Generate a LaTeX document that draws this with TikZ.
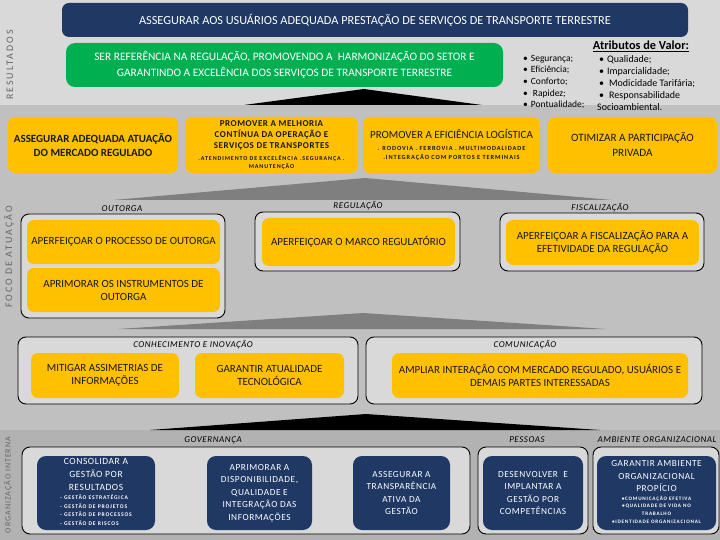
\documentclass[tikz,border=0pt]{standalone}
\usepackage{fontspec}
\setmainfont{Carlito}
\newfontfamily\sidefont[LetterSpace=20]{Carlito}
\newfontfamily\sidefontorg[LetterSpace=12]{Carlito}
\newfontfamily\spacedfont[LetterSpace=6]{Carlito}
\newfontfamily\tinyfont[LetterSpace=15]{Carlito}
\newfontfamily\tagfont[LetterSpace=6]{Carlito}
\definecolor{navy}{HTML}{1F3864}
\definecolor{vgreen}{HTML}{00B050}
\definecolor{gold}{HTML}{FFC000}
\definecolor{bandtop}{HTML}{D9D9D9}
\definecolor{bandmid}{HTML}{C0C0C0}
\definecolor{bandlow}{HTML}{B2B2B2}
\definecolor{wedge}{HTML}{7F7F7F}

\begin{document}
\begin{tikzpicture}[x=1pt,y=-1pt,
  ybox/.style={fill=gold,rounded corners=7pt,align=center,inner sep=0pt,text=black!90,font=\fontsize{11}{13}\selectfont},
  nbox/.style={fill=navy,rounded corners=9pt,align=center,inner sep=0pt,text=white,font=\spacedfont\fontsize{9.3}{12.5}\selectfont},
  frame/.style={draw=black,line width=0.9pt,fill=bandtop,rounded corners=8pt,inner sep=0pt},
  tag/.style={font=\tagfont\itshape\fontsize{9}{10}\selectfont,inner sep=0pt},
  sidetag/.style={rotate=90,text=black!60,inner sep=0pt,font=\sidefont\fontsize{10}{11}\selectfont}]
\useasboundingbox (0,0) rectangle (720,540);
\fill[bandtop] (0,0) rectangle (720,105);
\fill[bandmid] (0,105) rectangle (720,430);
\fill[bandlow] (0,430) rectangle (720,540);

\node[sidetag] (sideRes) at (10,65) {RESULTADOS};
\node[sidetag] (sideFoco) at (9,257) {FOCO DE ATUAÇÃO};
\node[sidetag,font=\sidefontorg\fontsize{8}{9}\selectfont] (sideOrg) at (8,485) {ORGANIZAÇÃO INTERNA};

\fill[black] (244,105) -- (364,89) -- (482,105) -- cycle;
\node[fill=navy,rounded corners=7pt,minimum width=626,minimum height=34,inner sep=0pt,text=white,font=\fontsize{12.3}{14}\selectfont] (title) at (375,20) {ASSEGURAR AOS USUÁRIOS ADEQUADA PRESTAÇÃO DE SERVIÇOS DE TRANSPORTE TERRESTRE};
\node[fill=vgreen,rounded corners=9pt,minimum width=437,minimum height=44,inner sep=0pt,text=white,align=center,font=\fontsize{11.4}{16}\selectfont] (vision) at (284.5,65) {SER REFERÊNCIA NA REGULAÇÃO, PROMOVENDO A\ \ HARMONIZAÇÃO DO SETOR E\\GARANTINDO A EXCELÊNCIA DOS SERVIÇOS DE TRANSPORTE TERRESTRE};

\node[anchor=north west,align=left,inner sep=0pt,font=\fontsize{9.5}{11.6}\selectfont] (attrA) at (523,55) {\textbullet\hspace{3pt}Segurança;\\\textbullet\hspace{3pt}Eficiência;\\\textbullet\hspace{3pt}Conforto;\\\textbullet\hspace{5pt}Rapidez;\\\textbullet\hspace{3pt}Pontualidade;};
\node[inner sep=0pt,font=\bfseries\fontsize{12.3}{14}\selectfont] (attrHead) at (641,46) {\underline{Atributos de Valor:}};
\node[anchor=north west,align=left,inner sep=0pt,font=\fontsize{10}{12.2}\selectfont] (attrB) at (597,55) {\hspace{2pt}\textbullet\hspace{3pt}Qualidade;\\\hspace{2pt}\textbullet\hspace{3pt}Imparcialidade;\\\hspace{2pt}\textbullet\hspace{5pt}Modicidade Tarifária;\\\hspace{2pt}\textbullet\hspace{5pt}Responsabilidade\\Socioambiental.};

\node[ybox,minimum width=170,minimum height=56,font=\bfseries\fontsize{11}{13.5}\selectfont] (asseg) at (93,145) {ASSEGURAR ADEQUADA ATUAÇÃO\\DO MERCADO REGULADO};
\node[ybox,minimum width=173,minimum height=56,font=\spacedfont\bfseries\fontsize{9}{11}\selectfont] (melhoria) at (271.5,145) {PROMOVER A MELHORIA\\CONTÍNUA DA OPERAÇÃO E\\SERVIÇOS DE TRANSPORTES\\[1.5pt]{\tinyfont\bfseries\fontsize{6}{7}\selectfont .ATENDIMENTO DE EXCELÊNCIA .SEGURANÇA .}\\[-3pt]{\tinyfont\bfseries\fontsize{6}{7}\selectfont MANUTENÇÃO}};
\node[ybox,minimum width=177,minimum height=56] (logist) at (451.5,145) {PROMOVER A EFICIÊNCIA LOGÍSTICA\\[-1pt]{\tinyfont\bfseries\fontsize{6.3}{8}\selectfont . RODOVIA . FERROVIA . MULTIMODALIDADE}\\[-4pt]{\tinyfont\bfseries\fontsize{6.3}{8}\selectfont .INTEGRAÇÃO COM PORTOS E TERMINAIS}};
\node[ybox,minimum width=169,minimum height=56,font=\fontsize{11.2}{15}\selectfont] (privada) at (632.5,145) {OTIMIZAR A PARTICIPAÇÃO\\PRIVADA};

\fill[wedge] (113,200) -- (365,178) -- (612,200) -- cycle;
\fill[wedge] (118,329) -- (363,313) -- (606,329) -- cycle;

\node[frame,minimum width=204,minimum height=104] (frOutorga) at (123,266) {};
\node[tag] (lbOutorga) at (122,209) {OUTORGA};
\node[ybox,minimum width=193,minimum height=44] (outProc) at (123.5,242) {APERFEIÇOAR O PROCESSO DE OUTORGA};
\node[ybox,minimum width=193,minimum height=44] (outInstr) at (123.5,290) {APRIMORAR OS INSTRUMENTOS DE\\OUTORGA};

\node[frame,minimum width=205,minimum height=59] (frRegul) at (357.5,241.5) {};
\node[tag] (lbRegul) at (358,206) {REGULAÇÃO};
\node[ybox,minimum width=193,minimum height=48] (regMarco) at (358.5,242) {APERFEIÇOAR O MARCO REGULATÓRIO};

\node[frame,minimum width=204,minimum height=58] (frFiscal) at (602,242) {};
\node[tag] (lbFiscal) at (600,208) {FISCALIZAÇÃO};
\node[ybox,minimum width=193,minimum height=45] (fisEfet) at (602.5,242.5) {APERFEIÇOAR A FISCALIZAÇÃO PARA A\\EFETIVIDADE DA REGULAÇÃO};

\node[frame,minimum width=340,minimum height=67] (frConh) at (188,370.5) {};
\node[tag] (lbConh) at (193,345) {CONHECIMENTO E INOVAÇÃO};
\node[ybox,minimum width=148,minimum height=45,font=\fontsize{11}{12.5}\selectfont] (mitigar) at (105,375.5) {MITIGAR ASSIMETRIAS DE\\INFORMAÇÕES};
\node[ybox,minimum width=149,minimum height=45,font=\fontsize{11}{12.5}\selectfont] (tecnol) at (269.5,375.5) {GARANTIR ATUALIDADE\\TECNOLÓGICA};

\node[frame,minimum width=336,minimum height=67] (frComun) at (534,370.5) {};
\node[tag] (lbComun) at (525,345) {COMUNICAÇÃO};
\node[ybox,minimum width=296,minimum height=45,font=\fontsize{11}{12.5}\selectfont] (ampliar) at (540,375.5) {AMPLIAR INTERAÇÃO COM MERCADO REGULADO, USUÁRIOS E\\DEMAIS PARTES INTERESSADAS};

\fill[black] (150,430) -- (366,414) -- (600,430) -- cycle;

\node[frame,minimum width=448,minimum height=87] (frGov) at (246,490.5) {};
\node[tag] (lbGov) at (213,440) {GOVERNANÇA};
\node[nbox,minimum width=118,minimum height=74,font=\spacedfont\fontsize{9.5}{13}\selectfont] (consolid) at (96,493) {CONSOLIDAR A\\GESTÃO POR\\RESULTADOS\\[-3.5pt]{\tinyfont\bfseries\fontsize{5.6}{8.6}\selectfont\begin{tabular}[t]{@{}l@{}}- GESTÃO ESTRATÉGICA\\- GESTÃO DE PROJETOS\\- GESTÃO DE PROCESSOS\\- GESTÃO DE RISCOS\end{tabular}}};
\node[nbox,minimum width=105,minimum height=74] (informa) at (259.5,493) {APRIMORAR A\\DISPONIBILIDADE,\\QUALIDADE E\\INTEGRAÇÃO DAS\\INFORMAÇÕES};
\node[nbox,minimum width=97,minimum height=74] (transp) at (401.5,493) {ASSEGURAR A\\TRANSPARÊNCIA\\ATIVA DA\\GESTÃO};

\node[frame,minimum width=110,minimum height=87] (frPessoas) at (533,490.5) {};
\node[tag] (lbPessoas) at (527,440) {PESSOAS};
\node[nbox,minimum width=100,minimum height=74] (compet) at (533,493) {DESENVOLVER\ \ E\\IMPLANTAR A\\GESTÃO POR\\COMPETÊNCIAS};

\node[frame,minimum width=126,minimum height=87] (frAmb) at (656,490.5) {};
\node[tag] (lbAmb) at (657,440) {AMBIENTE ORGANIZACIONAL};
\node[nbox,minimum width=119,minimum height=74] (ambiente) at (656.5,493) {GARANTIR AMBIENTE\\ORGANIZACIONAL\\PROPÍCIO\\[-4pt]{\tinyfont\bfseries\fontsize{5.2}{7.7}\selectfont\begin{tabular}[t]{@{}c@{}}•COMUNICAÇÃO EFETIVA\\•QUALIDADE DE VIDA NO\\TRABALHO\\•IDENTIDADE ORGANIZACIONAL\end{tabular}}};
\end{tikzpicture}
\end{document}
